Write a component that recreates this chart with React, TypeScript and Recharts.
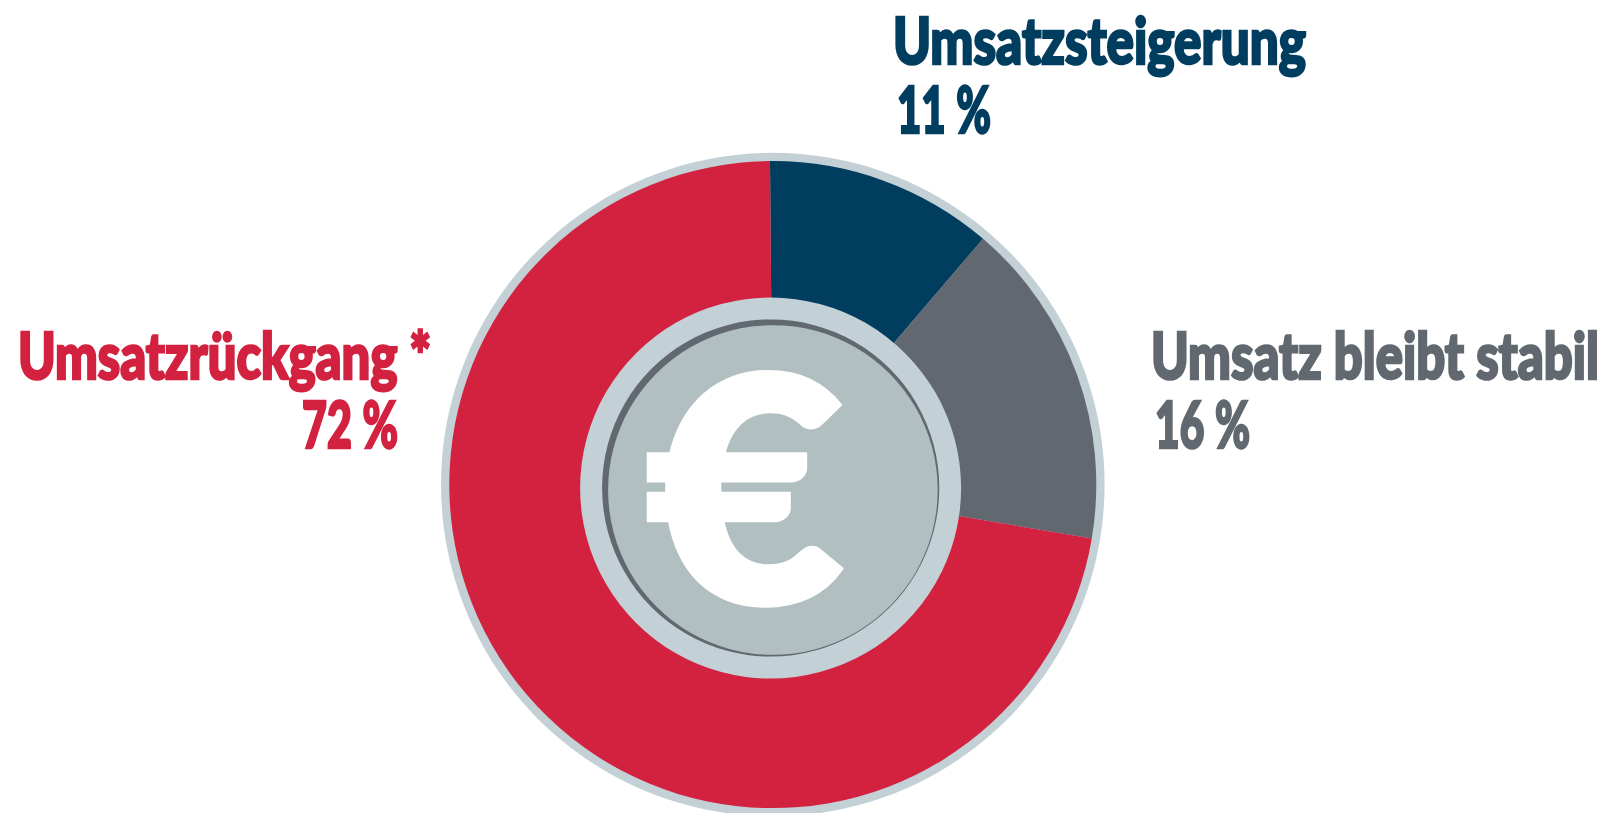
import { PieChart, Pie, Cell } from 'recharts';

const categories = ['Umsatzsteigerung', 'Umsatz bleibt stabil', 'Umsatzrückgang *'];
const percentLabels = ['11\u202f%', '16\u202f%', '72\u202f%'];
// slice shares as measured from the angles in the picture
const sliceValues = [11.4, 16.4, 72.2];

const sliceColors = ['#003d5f', '#61686f', '#d22240'];
const ringColor = '#c3d0d5';
const coinColor = '#b1bfc0';

const chartData = categories.map((name, i) => ({ name, value: sliceValues[i] }));
const full = [{ name: 'disc', value: 100 }];

// per label: left x, width, baseline y for name, then the same for the percent line
const labelBoxes = [
  { x: 893, w: 413, y: 64, px: 897, pw: 94, py: 133 },
  { x: 1151, w: 448, y: 379, px: 1155, pw: 95, py: 448 },
  { x: 18, w: 413, y: 379, px: 302, pw: 96, py: 448 },
];

const labelFont = 'Lato, sans-serif';

function Disc({ cx, cy, r, fill }: { cx: number; cy: number; r: number; fill: string }) {
  return (
    <Pie
      data={full}
      dataKey="value"
      cx={cx}
      cy={cy}
      innerRadius={0}
      outerRadius={r}
      startAngle={90}
      endAngle={-270}
      fill={fill}
      stroke="none"
      isAnimationActive={false}
    />
  );
}

export default function App() {
  return (
    <div style={{ position: 'absolute', left: 0, top: 0, width: 1608, height: 813, background: '#fff' }}>
      <PieChart width={1608} height={813} margin={{ top: 0, right: 0, bottom: 0, left: 0 }}>
        {Disc({ cx: 772.8, cy: 484.6, r: 331.8, fill: ringColor })}
        <Pie
          data={chartData}
          dataKey="value"
          cx={772.8}
          cy={484.6}
          innerRadius={0}
          outerRadius={323.5}
          startAngle={90.5}
          endAngle={-269.5}
          stroke="none"
          isAnimationActive={false}
        >
          {chartData.map((d, i) => (
            <Cell key={d.name} fill={sliceColors[i]} />
          ))}
        </Pie>
        {Disc({ cx: 770.6, cy: 488.1, r: 190.5, fill: ringColor })}
        {Disc({ cx: 770.7, cy: 488, r: 168.6, fill: sliceColors[1] })}
        {Disc({ cx: 772.9, cy: 490, r: 164.8, fill: coinColor })}
      </PieChart>
      <svg width={1608} height={813} style={{ position: 'absolute', left: 0, top: 0 }}>
        {categories.map((name, i) => {
          const b = labelBoxes[i];
          const style = {
            fontFamily: labelFont,
            fontWeight: 900,
            fill: sliceColors[i],
            stroke: sliceColors[i],
            strokeWidth: 2.6,
          };
          return (
            <g key={name}>
              <text x={b.x} y={b.y} fontSize={64} textLength={b.w} lengthAdjust="spacingAndGlyphs" style={style}>
                {name}
              </text>
              <text x={b.px} y={b.py} fontSize={64} textLength={b.pw} lengthAdjust="spacingAndGlyphs" style={style}>
                {percentLabels[i]}
              </text>
            </g>
          );
        })}
        <text
          x={646}
          y={602}
          fontSize={312}
          textLength={198}
          lengthAdjust="spacingAndGlyphs"
          style={{ fontFamily: 'Lato, sans-serif', fontWeight: 900, fill: '#fff', stroke: '#fff', strokeWidth: 7 }}
        >
          €
        </text>
      </svg>
    </div>
  );
}
